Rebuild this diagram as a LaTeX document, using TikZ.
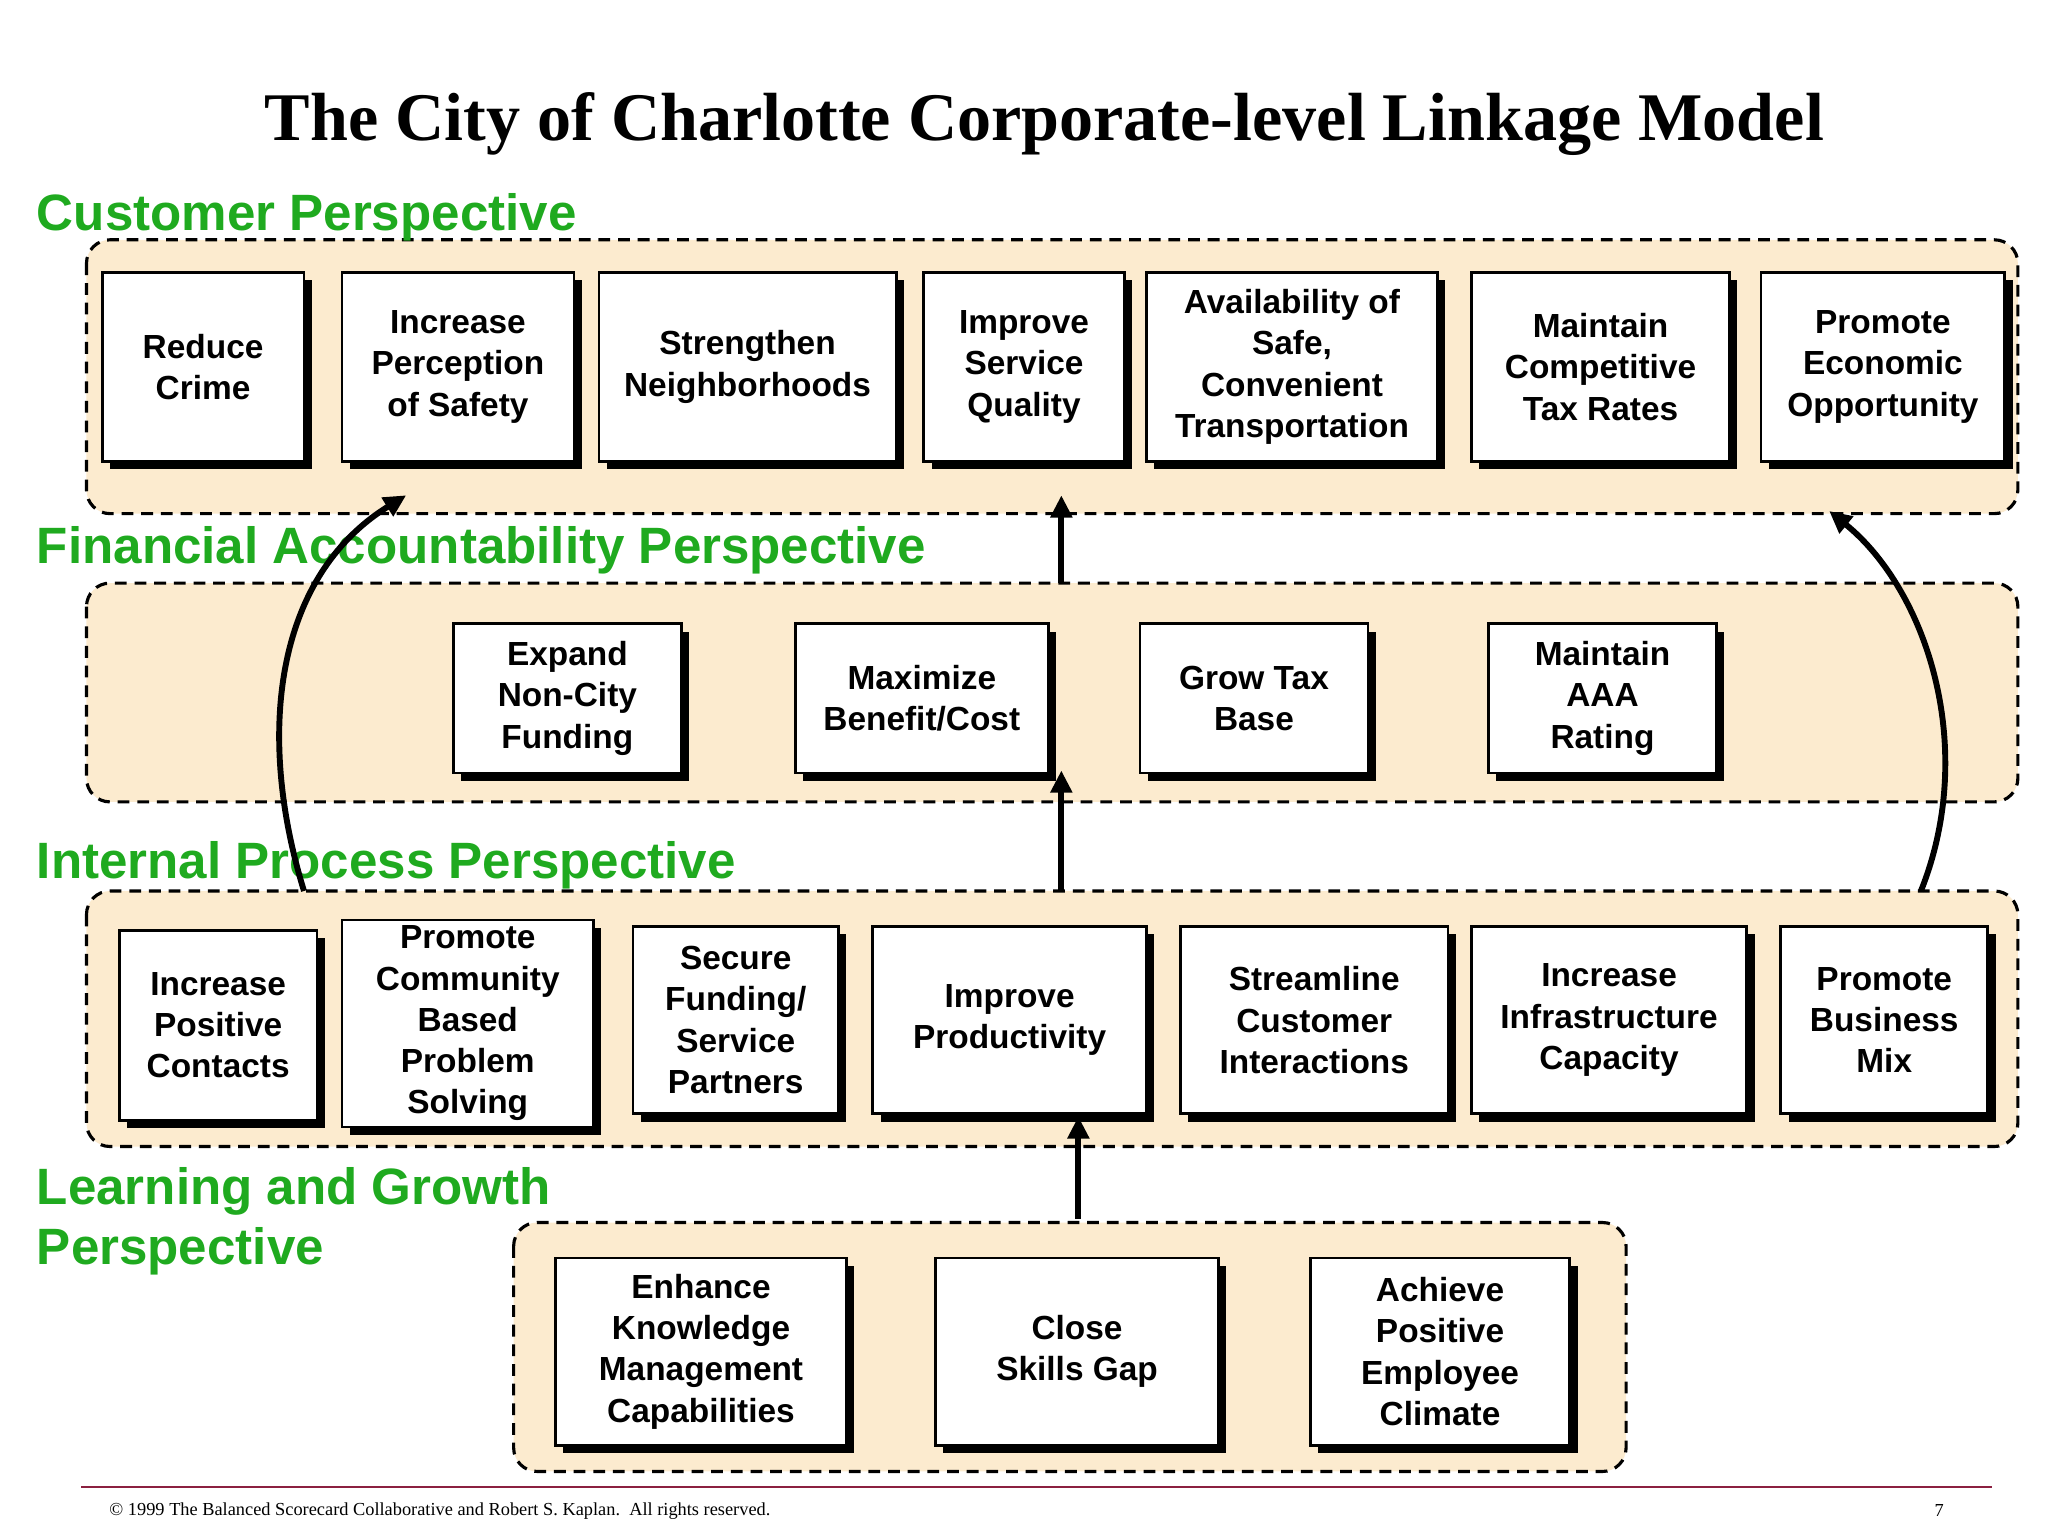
\documentclass[tikz,border=0pt]{standalone}
\usepackage{fontspec}
\setmainfont{Liberation Sans}
\newfontfamily\serifF{Liberation Serif}
\usetikzlibrary{arrows.meta}
\definecolor{beige}{HTML}{FCEBCF}
\definecolor{pgreen}{HTML}{1FAA1F}
\definecolor{maroon}{HTML}{8B2040}
\begin{document}
\begin{tikzpicture}[x=1pt,y=-1pt,
  cont/.style={draw=black,dashed,line width=2.4pt,dash pattern=on 9pt off 6pt,fill=beige,rounded corners=18pt},
  lbl/.style={anchor=west,text=pgreen,font=\fontsize{39}{46}\selectfont\bfseries,inner sep=0pt},
  arr/.style={line width=4.5pt,-{Triangle[length=17pt,width=16pt]}}]
\useasboundingbox (0,0) rectangle (1563,1172);
\newcommand{\bx}[6]{% name, x1,y1,x2,y2, text
  \fill (#2+6,#3+6) rectangle (#4+6,#5+6);
  \draw[fill=white,line width=2pt] (#2,#3) rectangle (#4,#5);
  \node[align=center,font=\fontsize{25.5}{31.5}\selectfont\bfseries] (#1) at ({(#2+#4)/2},{(#3+#5)/2}) {#6};}
\node[font=\serifF\fontsize{52}{58}\selectfont\bfseries] (title) at (797,95) {The City of Charlotte Corporate-level Linkage Model};
% containers
\draw[cont] (66,183) rectangle (1540,392);
\draw[cont] (66,445) rectangle (1540,612);
\draw[cont] (66,680) rectangle (1540,875);
\draw[cont] (392,933) rectangle (1241,1123);
% labels
\node[lbl] (lc) at (28,166) {Customer Perspective};
\node[lbl] (lf) at (28,420) {Financial Accountability Perspective};
\node[lbl] (li) at (28,660) {Internal Process Perspective};
\node[lbl,align=left] (ll) at (28,932) {Learning and Growth\\Perspective};
% customer
\bx{c1}{78}{208}{232}{352}{Reduce\\Crime}
\bx{c2}{261}{208}{438}{352}{Increase\\Perception\\of Safety}
\bx{c3}{457}{208}{684}{352}{Strengthen\\Neighborhoods}
\bx{c4}{705}{208}{858}{352}{Improve\\Service\\Quality}
\bx{c5}{875}{208}{1097}{352}{Availability of\\Safe,\\Convenient\\Transportation}
\bx{c6}{1123}{208}{1320}{352}{Maintain\\Competitive\\Tax Rates}
\bx{c7}{1344}{208}{1530}{352}{Promote\\Economic\\Opportunity}
% financial
\bx{f1}{346}{476}{520}{590}{Expand\\Non-City\\Funding}
\bx{f2}{607}{476}{800}{590}{Maximize\\Benefit/Cost}
\bx{f3}{870}{476}{1044}{590}{Grow Tax\\Base}
\bx{f4}{1136}{476}{1310}{590}{Maintain\\AAA\\Rating}
% internal
\bx{i1}{91}{710}{242}{855}{Increase\\Positive\\Contacts}
\bx{i2}{261}{702}{453}{860}{Promote\\Community\\Based\\Problem\\Solving}
\bx{i3}{483}{707}{640}{850}{Secure\\Funding/\\Service\\Partners}
\bx{i4}{666}{707}{875}{850}{Improve\\Productivity}
\bx{i5}{901}{707}{1105}{850}{Streamline\\Customer\\Interactions}
\bx{i6}{1123}{707}{1333}{850}{Increase\\Infrastructure\\Capacity}
\bx{i7}{1359}{707}{1517}{850}{Promote\\Business\\Mix}
% learning
\bx{l1}{424}{960}{646}{1103}{Enhance\\Knowledge\\Management\\Capabilities}
\bx{l2}{714}{960}{930}{1103}{Close\\Skills Gap}
\bx{l3}{1000}{960}{1198}{1103}{Achieve\\Positive\\Employee\\Climate}
% arrows
\coordinate (a1s) at (810,445); \coordinate (a1e) at (810,378);
\coordinate (a2s) at (810,680); \coordinate (a2e) at (810,588);
\coordinate (a3s) at (823,930); \coordinate (a3e) at (823,852);
\coordinate (a4s) at (232,680); \coordinate (a4e) at (310,378);
\coordinate (a5s) at (1466,680); \coordinate (a5e) at (1396,390);
\draw[arr] (a1s) -- (a1e);
\draw[arr] (a2s) -- (a2e);
\draw[arr] (a3s) -- (a3e);
\draw[arr] (a4s) .. controls (195,560) and (210,440) .. (a4e);
\draw[arr] (a5s) .. controls (1510,570) and (1470,450) .. (a5e);
% footer
\coordinate (fl) at (62,1135); \coordinate (fr) at (1520,1135);
\draw[maroon,line width=1.5pt] (fl) -- (fr);
\node[anchor=west,font=\serifF\fontsize{14}{16}\selectfont] (copy) at (80,1153) {© 1999 The Balanced Scorecard Collaborative and Robert S. Kaplan.\ \ All rights reserved.};
\node[font=\serifF\fontsize{14}{16}\selectfont] (pg) at (1480,1153) {7};
\end{tikzpicture}
\end{document}
